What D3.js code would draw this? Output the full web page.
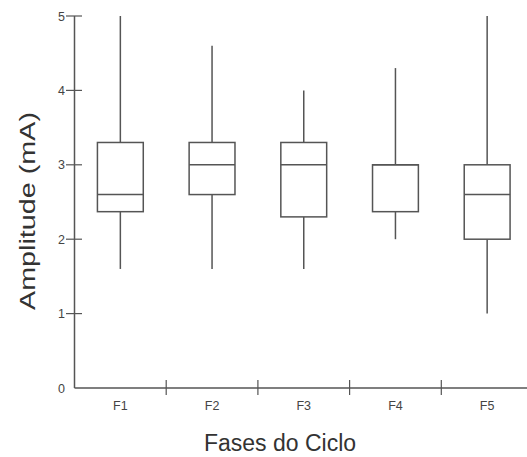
<!DOCTYPE html>
<html>
<head>
<meta charset="utf-8">
<script src="https://cdn.jsdelivr.net/npm/d3@7"></script>
<style>
  html, body { margin: 0; padding: 0; background: #fff; }
  svg { display: block; }
  text { font-family: "Liberation Sans", Arial, sans-serif; }
</style>
</head>
<body>
<svg id="chart" width="527" height="457"></svg>
<script>
// Phases of the cycle and the five-number summary of each box
const phases = ["F1", "F2", "F3", "F4", "F5"];
const whiskerLow  = [1.6, 1.6, 1.6, 2.0, 1.0];
const quartile1   = [2.37, 2.6, 2.3, 2.37, 2.0];
const medians     = [2.6, 3.0, 3.0, 3.0, 2.6];
const quartile3   = [3.3, 3.3, 3.3, 3.0, 3.0];
const whiskerHigh = [5.0, 4.6, 4.0, 4.3, 5.0];
const yTicks = [0, 1, 2, 3, 4, 5];

const xTitle = "Fases do Ciclo";
const yTitle = "Amplitude (mA)";

const boxes = phases.map((p, i) => ({
  phase: p, lo: whiskerLow[i], q1: quartile1[i], med: medians[i],
  q3: quartile3[i], hi: whiskerHigh[i]
}));

const svg = d3.select("#chart");
const ink = "#555";
const textInk = "#444";

const x = d3.scaleBand().domain(phases).range([74.5, 533]).padding(0);
const y = d3.scaleLinear().domain([0, 5]).range([388, 16]);

// Y axis: line with ticks crossing it
const yAxis = svg.append("g");
yAxis.append("line")
  .attr("x1", 74.5).attr("x2", 74.5)
  .attr("y1", y(5)).attr("y2", y(0))
  .attr("stroke", ink).attr("stroke-width", 1.5);
yAxis.selectAll("line.tick").data(yTicks.filter(t => t > 0)).join("line")
  .attr("class", "tick")
  .attr("x1", 66).attr("x2", 82)
  .attr("y1", d => y(d)).attr("y2", d => y(d))
  .attr("stroke", ink).attr("stroke-width", 1.2);
yAxis.selectAll("text").data(yTicks).join("text")
  .attr("x", 65).attr("y", d => y(d))
  .attr("dy", "0.36em")
  .attr("text-anchor", "end")
  .attr("font-size", 12.5)
  .attr("fill", textInk)
  .text(d => d);

// X axis: baseline with ticks between the phases
const xAxis = svg.append("g");
xAxis.append("line")
  .attr("x1", 74.5).attr("x2", 527)
  .attr("y1", y(0)).attr("y2", y(0))
  .attr("stroke", ink).attr("stroke-width", 1.5);
xAxis.selectAll("line.tick").data(phases.slice(1)).join("line")
  .attr("class", "tick")
  .attr("x1", d => x(d)).attr("x2", d => x(d))
  .attr("y1", y(0) - 8).attr("y2", y(0) + 7)
  .attr("stroke", ink).attr("stroke-width", 1.2);
xAxis.selectAll("text").data(phases).join("text")
  .attr("x", d => x(d) + x.bandwidth() / 2)
  .attr("y", 410)
  .attr("text-anchor", "middle")
  .attr("font-size", 12.5)
  .attr("fill", textInk)
  .text(d => d);

// Box plots
const boxW = x.bandwidth() * 0.5;
const g = svg.append("g").selectAll("g").data(boxes).join("g")
  .attr("transform", d => `translate(${x(d.phase) + x.bandwidth() / 2},0)`);

g.append("line") // upper whisker
  .attr("x1", 0).attr("x2", 0)
  .attr("y1", d => y(d.hi)).attr("y2", d => y(d.q3))
  .attr("stroke", ink).attr("stroke-width", 1.5);
g.append("line") // lower whisker
  .attr("x1", 0).attr("x2", 0)
  .attr("y1", d => y(d.q1)).attr("y2", d => y(d.lo))
  .attr("stroke", ink).attr("stroke-width", 1.5);
g.append("rect")
  .attr("x", -boxW / 2).attr("width", boxW)
  .attr("y", d => y(d.q3))
  .attr("height", d => y(d.q1) - y(d.q3))
  .attr("fill", "#fff")
  .attr("stroke", ink).attr("stroke-width", 1.5);
g.append("line") // median
  .attr("x1", -boxW / 2).attr("x2", boxW / 2)
  .attr("y1", d => y(d.med)).attr("y2", d => y(d.med))
  .attr("stroke", ink).attr("stroke-width", 1.5);

// Axis titles
svg.append("text")
  .attr("x", 280).attr("y", 451)
  .attr("text-anchor", "middle")
  .attr("font-size", 23)
  .attr("fill", "#333")
  .text(xTitle);

svg.append("text")
  .attr("transform", "translate(35,211) rotate(-90)")
  .attr("text-anchor", "middle")
  .attr("font-size", 22)
  .attr("textLength", 198)
  .attr("lengthAdjust", "spacingAndGlyphs")
  .attr("fill", "#333")
  .text(yTitle);
</script>
</body>
</html>
